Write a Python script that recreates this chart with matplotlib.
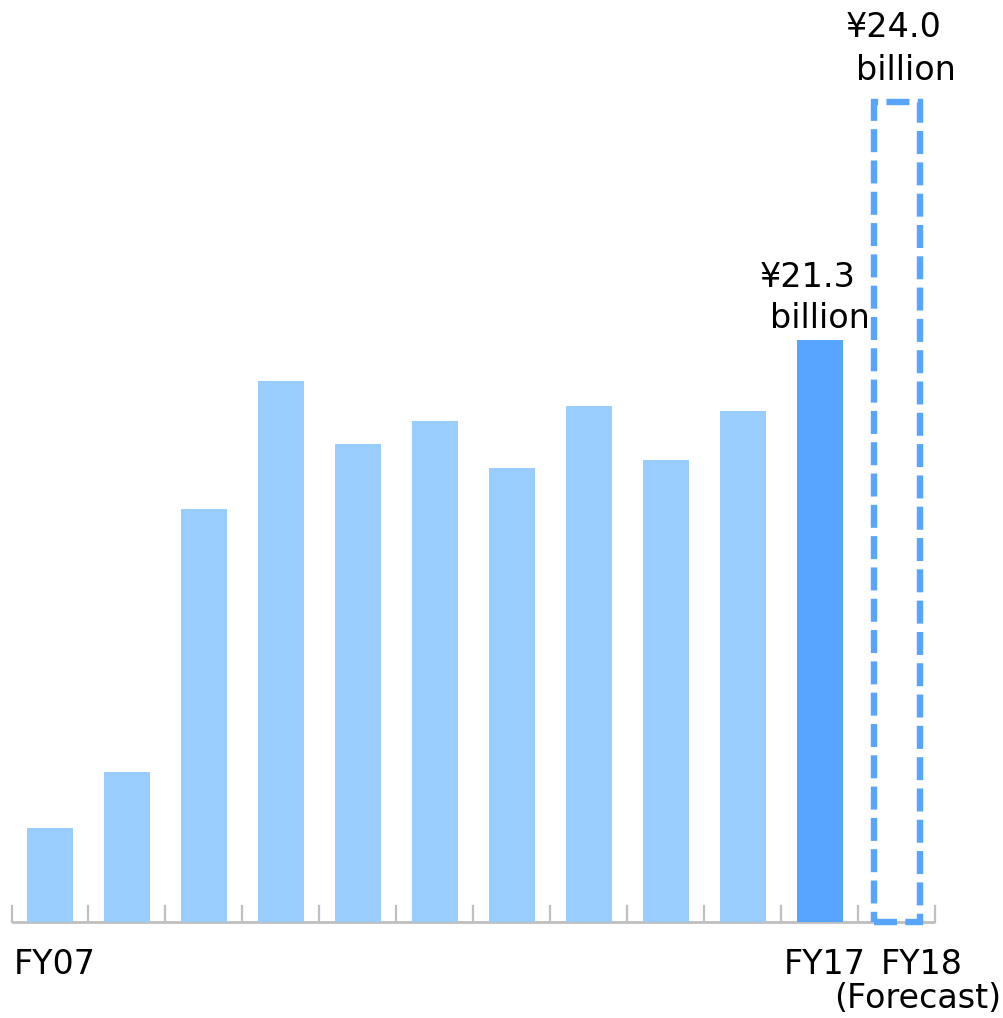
import matplotlib
matplotlib.use("Agg")
import matplotlib.pyplot as plt
from matplotlib.patches import Rectangle

# Data (heights in billion yen)
years = ["FY07", "FY08", "FY09", "FY10", "FY11", "FY12",
         "FY13", "FY14", "FY15", "FY16", "FY17"]
values = [3.45, 5.5, 15.1, 19.8, 17.5, 18.35, 16.6, 18.9, 16.9, 18.7, 21.3]
forecast_label = "FY18"
forecast_box = 30.0  # drawn height of the dashed forecast outline
label_fy17 = "¥21.3\nbillion"
label_fy18 = "¥24.0\nbillion"

light = "#99CCFF"
dark = "#57A5FF"
grey = "#BFBFBF"

W, H = 1004, 1018
fig = plt.figure(figsize=(W / 100, H / 100), dpi=100)
ax = fig.add_axes([0, 0, 1, 1])

# pixel geometry of the reference
x0, step = 50, 77       # first bar centre, bar spacing (px)
base, scale = 922, 27.32  # baseline (px from top), px per unit

def xd(px):
    return (px - x0) / step

def yd(py):
    return (base - py) / scale

ax.set_xlim(xd(0), xd(W))
ax.set_ylim(yd(H), yd(0))
ax.axis("off")

n = len(years)
xs = list(range(n))
colors = [light] * (n - 1) + [dark]
ax.bar(xs, values, width=0.59, color=colors, zorder=2)

# forecast dashed outline
fx = n
rect = Rectangle((fx - 0.295, 0), 0.59, forecast_box, fill=False,
                 edgecolor=dark, linewidth=4.6,
                 linestyle=(0, (3.6, 1.3)), zorder=3)
ax.add_patch(rect)

# axis line and ticks
ax.plot([-0.5, n + 0.5], [0, 0], color=grey, lw=2, zorder=1,
        solid_capstyle="butt")
for k in range(n + 2):
    ax.plot([k - 0.5, k - 0.5], [0, 16 / scale], color=grey, lw=1.6,
            zorder=1)

fs = 24
# category labels
ax.text(xd(55), yd(974), years[0], ha="center", va="baseline", fontsize=fs)
ax.text(xd(825), yd(974), years[-1], ha="center", va="baseline", fontsize=fs)
ax.text(xd(922), yd(974), forecast_label, ha="center", va="baseline",
        fontsize=fs)
ax.text(xd(1001), yd(1008), "(Forecast)", ha="right", va="baseline",
        fontsize=fs)

# value labels
l1, l2 = label_fy17.split("\n")
ax.text(xd(808), yd(287), l1, ha="center", va="baseline", fontsize=fs)
ax.text(xd(820), yd(328), l2, ha="center", va="baseline", fontsize=fs)
l1, l2 = label_fy18.split("\n")
ax.text(xd(894), yd(37), l1, ha="center", va="baseline", fontsize=fs)
ax.text(xd(906), yd(80), l2, ha="center", va="baseline", fontsize=fs)

fig.savefig("out.png", dpi=100)
